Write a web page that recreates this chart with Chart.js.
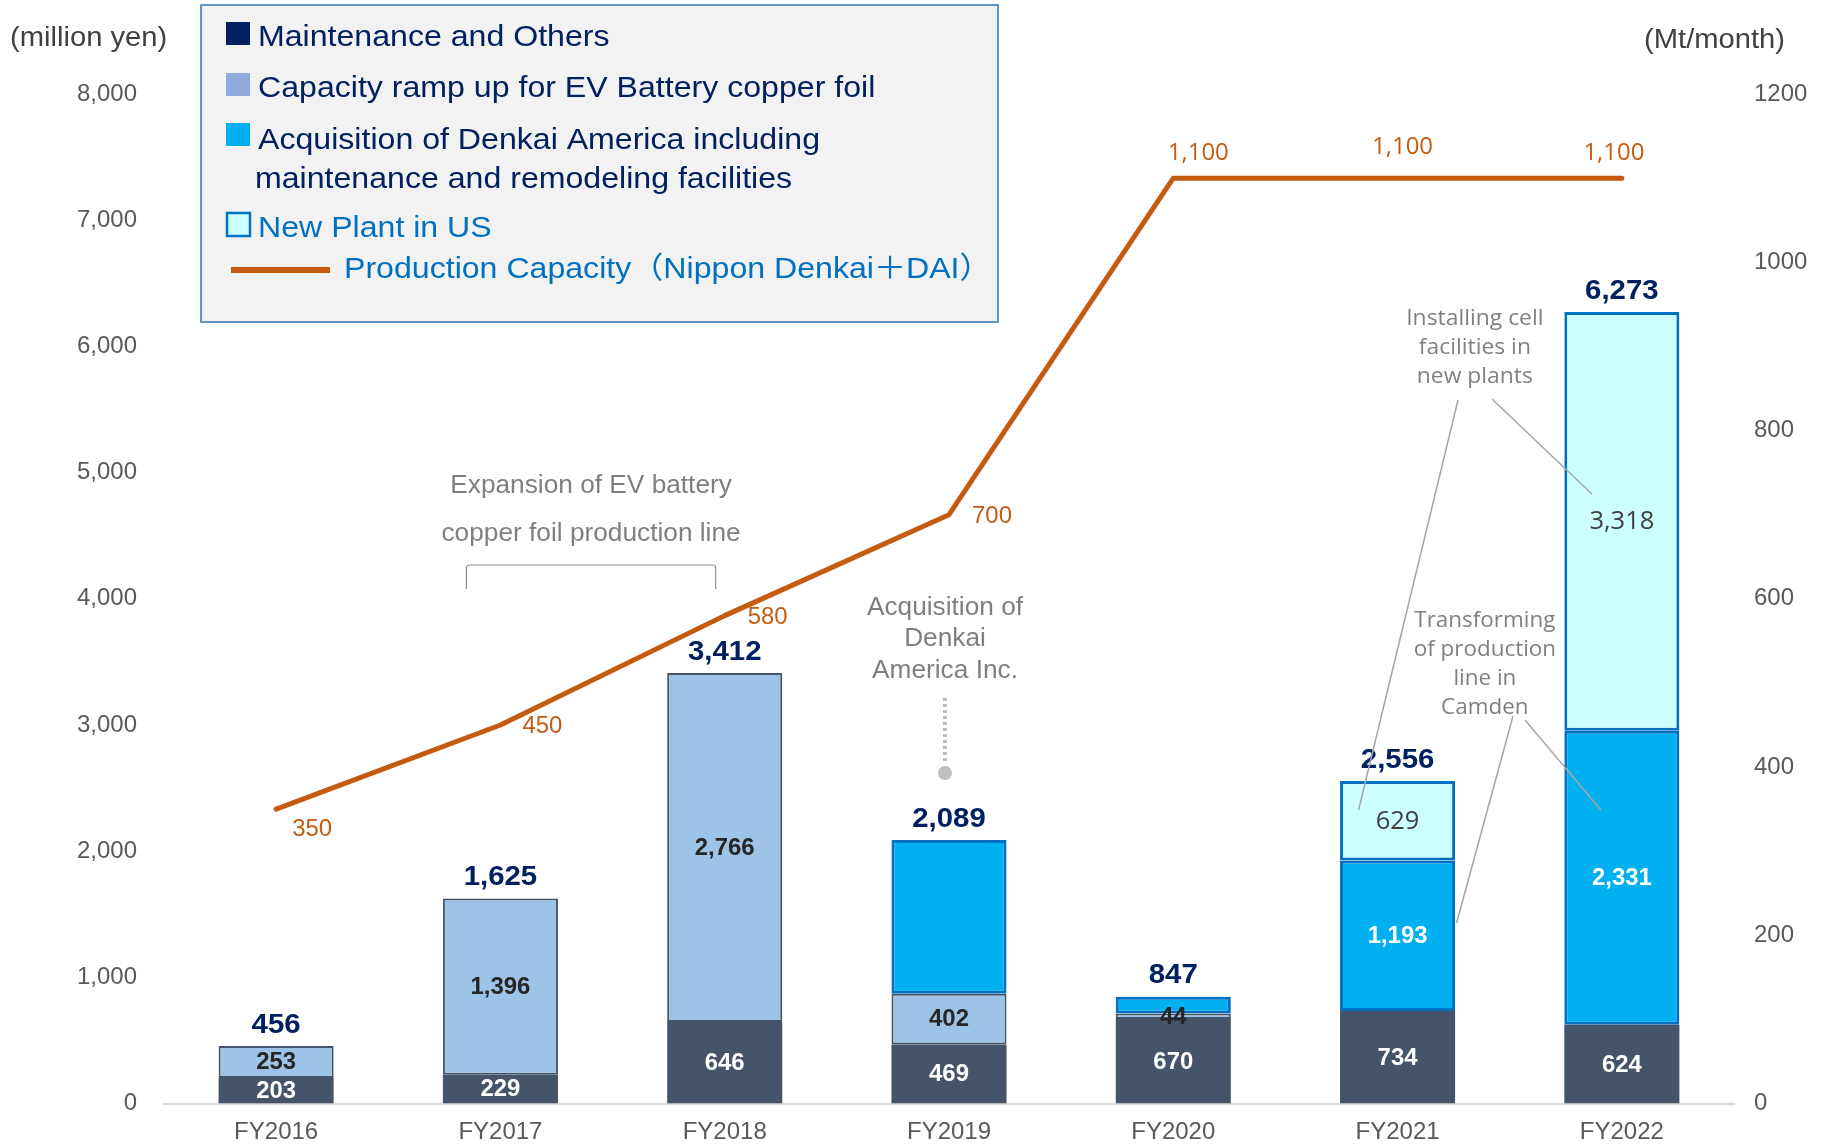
<!DOCTYPE html>
<html>
<head>
<meta charset="utf-8">
<script src="https://cdn.jsdelivr.net/npm/chart.js@4.4.0/dist/chart.umd.min.js"></script>
<style>
  html, body { margin: 0; padding: 0; background: #ffffff; }
  #wrap { width: 1825px; height: 1145px; position: relative; }
</style>
</head>
<body>
<div id="wrap"><canvas id="chart" width="1825" height="1145"></canvas></div>
<script>
// Capital expenditure by purpose (million yen) and production capacity (Mt/month)
const categories = ['FY2016', 'FY2017', 'FY2018', 'FY2019', 'FY2020', 'FY2021', 'FY2022'];
const maintenance = [203, 229, 646, 469, 670, 734, 624];
const capacityRamp = [253, 1396, 2766, 402, 44, null, null];
const acquisition = [null, null, null, 1218, 133, 1193, 2331];
const newPlant = [null, null, null, null, null, 629, 3318];
const totals = [456, 1625, 3412, 2089, 847, 2556, 6273];
const productionCapacity = [350, 450, 580, 700, 1100, 1100, 1100];
const acquisitionLabelled = [false, false, false, false, false, true, true];
const yenTicks = [0, 1000, 2000, 3000, 4000, 5000, 6000, 7000, 8000];
const capacityTicks = [0, 200, 400, 600, 800, 1000, 1200];

const SANS = "'Liberation Sans', Arial, 'Noto Sans CJK JP', sans-serif";
const OPEN = "'Open Sans', 'Liberation Sans', sans-serif";
const fmt = v => v.toLocaleString('en-US');

Chart.defaults.font.family = SANS;

// draws text slightly widened horizontally around its anchor
function wideText(ctx, text, x, y, sx) {
  ctx.save();
  ctx.translate(x, y);
  ctx.scale(sx, 1);
  ctx.fillText(text, 0, 0);
  ctx.restore();
}

// Value labels inside each segment, totals above the stacks, and labels on the capacity line
const valueLabels = {
  id: 'valueLabels',
  afterDatasetsDraw(chart) {
    const { ctx } = chart;
    const yS = chart.scales.y;
    ctx.save();
    ctx.textAlign = 'center';
    ctx.textBaseline = 'middle';
    const segStyles = [
      { font: 'bold 23px ' + SANS, color: '#ffffff', sx: 1.04 },
      { font: 'bold 23px ' + SANS, color: '#262626', sx: 1.04 },
      { font: 'bold 23px ' + SANS, color: '#ffffff', sx: 1.04 },
      { font: '25px ' + OPEN, color: '#404040', sx: 1.02 }
    ];
    for (let d = 0; d < 4; d++) {
      const meta = chart.getDatasetMeta(d);
      const data = chart.data.datasets[d].data;
      meta.data.forEach((el, i) => {
        const v = data[i];
        if (v == null) return;
        if (d === 2 && !acquisitionLabelled[i]) return;
        ctx.font = segStyles[d].font;
        ctx.fillStyle = segStyles[d].color;
        wideText(ctx, fmt(v), el.x, (el.y + el.base) / 2 + 1, segStyles[d].sx);
      });
    }
    // stack totals
    const xMeta = chart.getDatasetMeta(0);
    ctx.font = 'bold 28px ' + SANS;
    ctx.fillStyle = '#002060';
    totals.forEach((t, i) => {
      wideText(ctx, fmt(t), xMeta.data[i].x, yS.getPixelForValue(t) - 21, 1.05);
    });
    // production capacity line labels
    const lineMeta = chart.getDatasetMeta(4);
    const offs = [[36, 21], [42, 2], [43, 2], [43, 2], [25, -25], [5, -31], [-8, -25]];
    lineMeta.data.forEach((pt, i) => {
      ctx.font = (i >= 4 ? '23px ' + OPEN : '23px ' + SANS);
      ctx.fillStyle = '#C55A11';
      wideText(ctx, fmt(productionCapacity[i]), pt.x + offs[i][0], pt.y + offs[i][1], 1.04);
    });
    ctx.restore();
  }
};

// Callouts, axis unit captions and the legend panel
const decorations = {
  id: 'decorations',
  afterDraw(chart) {
    const { ctx } = chart;
    const xS = chart.scales.x;
    const cx = i => xS.getPixelForValue(i);
    ctx.save();
    ctx.textBaseline = 'middle';

    // unit captions
    ctx.font = '27px ' + SANS;
    ctx.fillStyle = '#404040';
    ctx.textAlign = 'left';
    wideText(ctx, '(million yen)', 10, 39, 1.08);
    ctx.textAlign = 'right';
    wideText(ctx, '(Mt/month)', 1785, 41, 1.08);

    // bracket over FY2017-FY2018
    ctx.textAlign = 'center';
    ctx.font = '25px ' + SANS;
    ctx.fillStyle = '#7F7F7F';
    const bx1 = cx(1) - 34, bx2 = cx(2) - 9;
    const bMid = (bx1 + bx2) / 2;
    wideText(ctx, 'Expansion of EV battery', bMid, 486, 1.05);
    wideText(ctx, 'copper foil production line', bMid, 534, 1.05);
    ctx.strokeStyle = '#8C8C8C';
    ctx.lineWidth = 1.2;
    ctx.beginPath();
    ctx.moveTo(bx1, 589);
    ctx.lineTo(bx1, 568);
    ctx.quadraticCurveTo(bx1, 565, bx1 + 3, 565);
    ctx.lineTo(bx2 - 3, 565);
    ctx.quadraticCurveTo(bx2, 565, bx2, 568);
    ctx.lineTo(bx2, 589);
    ctx.stroke();

    // acquisition callout over FY2019
    const ax = cx(3) - 4;
    ctx.font = '25px ' + SANS;
    ctx.fillStyle = '#7F7F7F';
    wideText(ctx, 'Acquisition of', ax, 608, 1.05);
    wideText(ctx, 'Denkai', ax, 639, 1.05);
    wideText(ctx, 'America Inc.', ax, 671, 1.05);
    ctx.strokeStyle = '#BFBFBF';
    ctx.lineWidth = 4;
    ctx.setLineDash([3, 3]);
    ctx.beginPath();
    ctx.moveTo(ax, 698);
    ctx.lineTo(ax, 762);
    ctx.stroke();
    ctx.setLineDash([]);
    ctx.fillStyle = '#BFBFBF';
    ctx.beginPath();
    ctx.arc(ax, 773, 7, 0, Math.PI * 2);
    ctx.fill();

    // callouts for FY2021 / FY2022
    ctx.font = '22px ' + OPEN;
    ctx.fillStyle = '#808080';
    const ix = cx(6) - 147;
    wideText(ctx, 'Installing cell', ix, 319, 1.04);
    wideText(ctx, 'facilities in', ix, 348, 1.04);
    wideText(ctx, 'new plants', ix, 377, 1.04);
    const tx = cx(6) - 137;
    wideText(ctx, 'Transforming', tx, 621, 1.02);
    wideText(ctx, 'of production', tx, 650, 1.02);
    wideText(ctx, 'line in', tx, 679, 1.02);
    wideText(ctx, 'Camden', tx, 708, 1.02);
    ctx.strokeStyle = '#A6A6A6';
    ctx.lineWidth = 1.5;
    const leaders = [
      [1458, 400, cx(5) - 39, 810],
      [1492, 399, cx(6) - 30, 494],
      [1513, 716, cx(5) + 59, 923],
      [1525, 720, cx(6) - 21, 810]
    ];
    leaders.forEach(([x1, y1, x2, y2]) => {
      ctx.beginPath();
      ctx.moveTo(x1, y1);
      ctx.lineTo(x2, y2);
      ctx.stroke();
    });

    // legend panel
    ctx.fillStyle = '#F2F2F2';
    ctx.fillRect(201, 5, 797, 317);
    ctx.strokeStyle = '#2E75B6';
    ctx.lineWidth = 1.5;
    ctx.strokeRect(201, 5, 797, 317);

    const ds = chart.data.datasets;
    ctx.textAlign = 'left';
    ctx.font = '30px ' + SANS;
    const SX = 1.07;
    const rows = [
      { d: 0, sy: 22, ty: 38, swatch: '#002060', text: '#002060' },
      { d: 1, sy: 73, ty: 89, swatch: '#8FAADC', text: '#002060' },
      { d: 2, sy: 123, ty: 141, swatch: '#00B0F0', text: '#002060' }
    ];
    rows.forEach(r => {
      ctx.fillStyle = r.swatch;
      ctx.fillRect(226, r.sy, 24, 23);
      ctx.fillStyle = r.text;
      ds[r.d].legendLines.forEach((ln, k) => {
        wideText(ctx, ln, k === 0 ? 258 : 255, r.ty + k * 39, SX);
      });
    });
    // outlined swatch
    ctx.fillStyle = '#CCFFFF';
    ctx.fillRect(227, 213, 23, 23);
    ctx.strokeStyle = '#0070C0';
    ctx.lineWidth = 2.5;
    ctx.strokeRect(227, 213, 23, 23);
    ctx.fillStyle = '#0070C0';
    wideText(ctx, ds[3].legendLines[0], 258, 229, SX);
    // line swatch
    ctx.strokeStyle = '#C55A11';
    ctx.lineWidth = 6;
    ctx.beginPath();
    ctx.moveTo(231, 270);
    ctx.lineTo(330, 270);
    ctx.stroke();
    ctx.fillStyle = '#0070C0';
    wideText(ctx, ds[4].legendLines[0], 344, 270, SX);

    ctx.restore();
  }
};

new Chart(document.getElementById('chart'), {
  data: {
    labels: categories,
    datasets: [
      {
        type: 'bar', label: 'Maintenance and Others',
        legendLines: ['Maintenance and Others'],
        data: maintenance, backgroundColor: '#44546A', borderWidth: 0,
        stack: 'capex', yAxisID: 'y', order: 2
      },
      {
        type: 'bar', label: 'Capacity ramp up for EV Battery copper foil',
        legendLines: ['Capacity ramp up for EV Battery copper foil'],
        data: capacityRamp, backgroundColor: '#9DC3E6', borderColor: '#44546A',
        borderWidth: 2, borderSkipped: false,
        stack: 'capex', yAxisID: 'y', order: 2
      },
      {
        type: 'bar', label: 'Acquisition of Denkai America including maintenance and remodeling facilities',
        legendLines: ['Acquisition of Denkai America including', 'maintenance and remodeling facilities'],
        data: acquisition, backgroundColor: '#00B0F0', borderColor: '#0070C0',
        borderWidth: 3, borderSkipped: false,
        stack: 'capex', yAxisID: 'y', order: 2
      },
      {
        type: 'bar', label: 'New Plant in US',
        legendLines: ['New Plant in US'],
        data: newPlant, backgroundColor: '#CCFFFF', borderColor: '#0070C0',
        borderWidth: 3, borderSkipped: false,
        stack: 'capex', yAxisID: 'y', order: 2
      },
      {
        type: 'line', label: 'Production Capacity（Nippon Denkai＋DAI）',
        legendLines: ['Production Capacity（Nippon Denkai＋DAI）'],
        data: productionCapacity, borderColor: '#C55A11', backgroundColor: '#C55A11',
        borderWidth: 5, pointRadius: 0, tension: 0, borderCapStyle: 'round',
        borderJoinStyle: 'round', yAxisID: 'y1', order: 0
      }
    ]
  },
  options: {
    responsive: false,
    animation: false,
    devicePixelRatio: 1,
    layout: { padding: { top: 94, left: 0, right: 0, bottom: 0 } },
    datasets: { bar: { categoryPercentage: 1, barPercentage: 0.513 } },
    plugins: { legend: { display: false }, tooltip: { enabled: false } },
    scales: {
      x: {
        stacked: true,
        grid: { display: false, drawTicks: false },
        border: { display: true, color: '#D9D9D9', width: 2 },
        ticks: { color: '#595959', font: { size: 24, family: SANS }, padding: 14 },
        afterFit(s) { s.height = 41; }
      },
      y: {
        stacked: true, position: 'left', min: 0, max: 8000,
        grid: { display: false, drawTicks: false },
        border: { display: false },
        afterBuildTicks(s) { s.ticks = yenTicks.map(v => ({ value: v })); },
        ticks: { color: '#595959', font: { size: 24, family: SANS }, padding: 27,
                 callback: v => fmt(v) },
        afterFit(s) { s.width = 164; }
      },
      y1: {
        position: 'right', min: 0, max: 1200,
        grid: { display: false, drawTicks: false },
        border: { display: false },
        afterBuildTicks(s) { s.ticks = capacityTicks.map(v => ({ value: v })); },
        ticks: { color: '#595959', font: { size: 24, family: SANS }, padding: 20,
                 callback: v => String(v) },
        afterFit(s) { s.width = 91; }
      }
    }
  },
  plugins: [valueLabels, decorations]
});
</script>
</body>
</html>
